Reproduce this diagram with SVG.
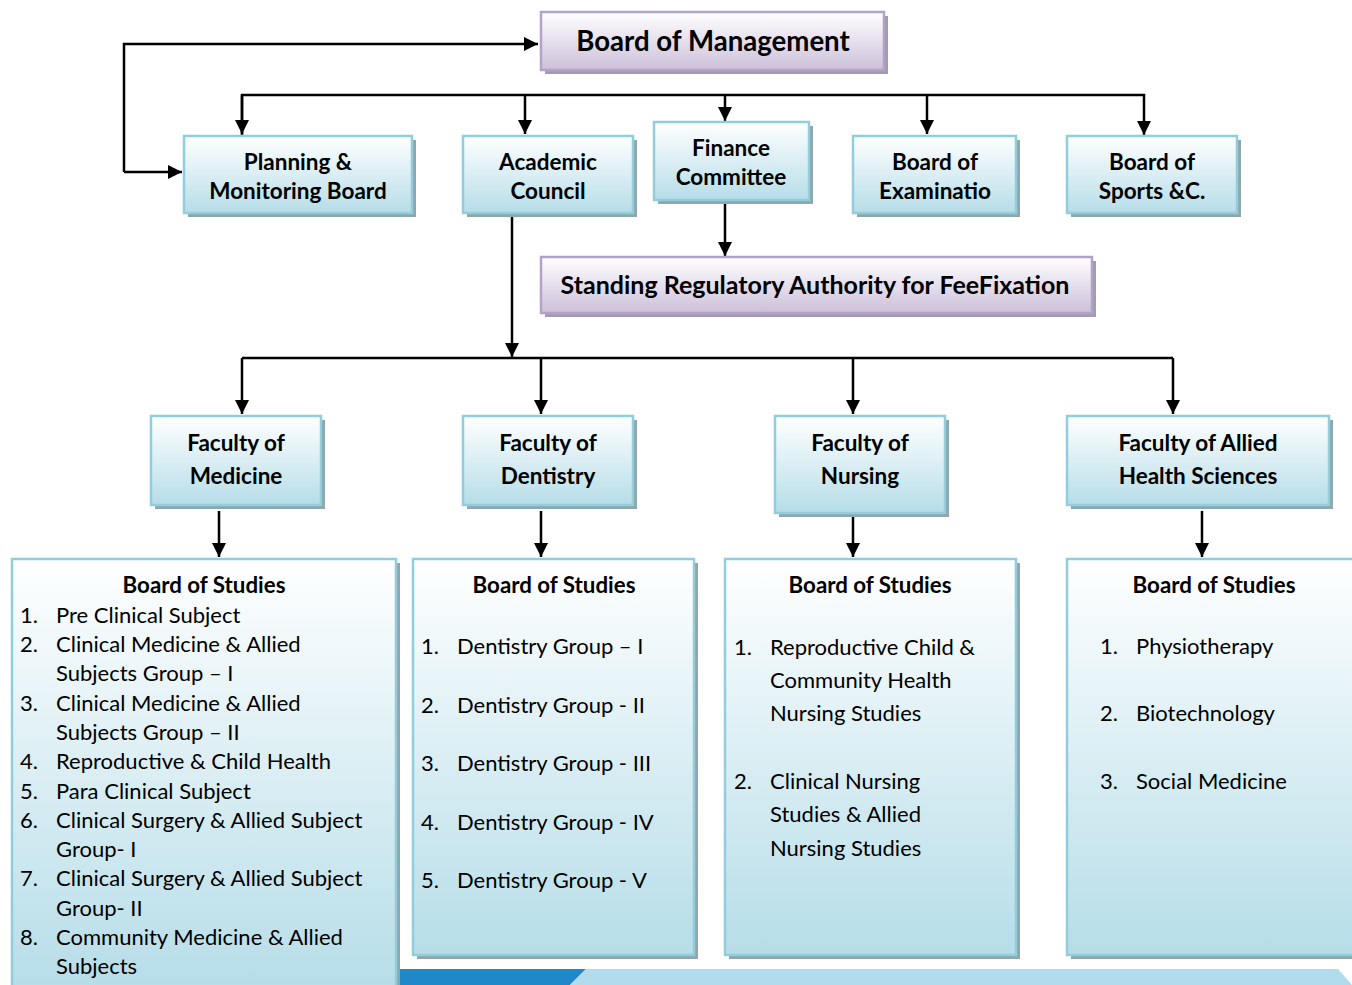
<svg xmlns="http://www.w3.org/2000/svg" width="1352" height="985" viewBox="0 0 1352 985">
<defs>
<linearGradient id="gBlue" x1="0" y1="0" x2="0" y2="1">
<stop offset="0" stop-color="#ffffff"/>
<stop offset="1" stop-color="#b6dde8"/>
</linearGradient>
<linearGradient id="gPurple" x1="0" y1="0" x2="0" y2="1">
<stop offset="0" stop-color="#ffffff"/>
<stop offset="1" stop-color="#ccc0da"/>
</linearGradient>
<marker id="ah" viewBox="0 0 10 10" refX="10" refY="5" markerWidth="14" markerHeight="14" markerUnits="userSpaceOnUse" orient="auto">
<path d="M0,0 L10,5 L0,10 z" fill="#000"/>
</marker>
</defs>
<style>
.sh{fill:#8fa6ad}
.shp{fill:#a39bb0}
.bx{fill:url(#gBlue);stroke:#92cddc;stroke-width:2.5}
.bp{fill:url(#gPurple);stroke:#b3a2c7;stroke-width:2.5}
.t{font-family:Lato,"Open Sans",sans-serif;font-weight:bold;font-size:22.5px;fill:#000;text-anchor:middle}
.h{font-family:Lato,"Open Sans",sans-serif;font-weight:bold;font-size:22.3px;fill:#000;text-anchor:middle}
.big{font-family:Lato,"Open Sans",sans-serif;font-weight:bold;font-size:27.6px;fill:#000;text-anchor:middle}
.mid{font-family:Lato,"Open Sans",sans-serif;font-weight:bold;font-size:25px;fill:#000;text-anchor:middle}
.i{font-family:Lato,"Open Sans",sans-serif;font-size:22px;fill:#000}
.ln{fill:none;stroke:#000;stroke-width:2.5}
</style>
<rect width="1352" height="985" fill="#ffffff"/>

<g id="connectors">
<path class="ln" d="M124,172 L124,44 L538,44" marker-end="url(#ah)"/>
<path class="ln" d="M124,172 L182,172" marker-end="url(#ah)"/>
<path class="ln" d="M242,135 L242,95 L1144,95 L1144,135" marker-end="url(#ah)"/>
<path class="ln" d="M242,95 L242,134" marker-end="url(#ah)"/>
<path class="ln" d="M525,95 L525,134" marker-end="url(#ah)"/>
<path class="ln" d="M725,95 L725,121" marker-end="url(#ah)"/>
<path class="ln" d="M927,95 L927,134" marker-end="url(#ah)"/>
<path class="ln" d="M512,213 L512,357" marker-end="url(#ah)"/>
<path class="ln" d="M725,200 L725,256" marker-end="url(#ah)"/>
<path class="ln" d="M242,358 L1173,358"/>
<path class="ln" d="M242,358 L242,414" marker-end="url(#ah)"/>
<path class="ln" d="M541,358 L541,414" marker-end="url(#ah)"/>
<path class="ln" d="M853,358 L853,414" marker-end="url(#ah)"/>
<path class="ln" d="M1173,358 L1173,414" marker-end="url(#ah)"/>
<path class="ln" d="M219,511 L219,557" marker-end="url(#ah)"/>
<path class="ln" d="M541,511 L541,557" marker-end="url(#ah)"/>
<path class="ln" d="M853,516 L853,557" marker-end="url(#ah)"/>
<path class="ln" d="M1202,511 L1202,557" marker-end="url(#ah)"/>
</g>

<g id="board-of-management">
<rect class="shp" x="545" y="16" width="343" height="58"/>
<rect class="bp" x="541" y="12" width="343" height="58"/>
<text class="big" x="713" y="51">Board of Management</text>
</g>

<g id="planning-monitoring-board">
<rect class="sh" x="188" y="140" width="228" height="77"/>
<rect class="bx" x="184" y="136" width="228" height="77"/>
<text class="t" x="298" y="170">Planning &amp;</text>
<text class="t" x="298" y="199">Monitoring Board</text>
</g>

<g id="academic-council">
<rect class="sh" x="467" y="140" width="170" height="77"/>
<rect class="bx" x="463" y="136" width="170" height="77"/>
<text class="t" x="548" y="170">Academic</text>
<text class="t" x="548" y="199">Council</text>
</g>

<g id="finance-committee">
<rect class="sh" x="658" y="126" width="155" height="78"/>
<rect class="bx" x="654" y="122" width="155" height="78"/>
<text class="t" x="731" y="156">Finance</text>
<text class="t" x="731" y="185">Committee</text>
</g>

<g id="board-of-examination">
<rect class="sh" x="857" y="140" width="163" height="77"/>
<rect class="bx" x="853" y="136" width="163" height="77"/>
<text class="t" x="935" y="170">Board of</text>
<text class="t" x="935" y="199">Examinatio</text>
</g>

<g id="board-of-sports">
<rect class="sh" x="1071" y="140" width="170" height="77"/>
<rect class="bx" x="1067" y="136" width="170" height="77"/>
<text class="t" x="1152" y="170">Board of</text>
<text class="t" x="1152" y="199">Sports &amp;C.</text>
</g>

<g id="standing-regulatory-authority">
<rect class="shp" x="545" y="261" width="551" height="56"/>
<rect class="bp" x="541" y="257" width="551" height="56"/>
<text class="mid" x="815" y="294">Standing Regulatory Authority for FeeFixation</text>
</g>

<g id="faculty-medicine">
<rect class="sh" x="155" y="420" width="170" height="89"/>
<rect class="bx" x="151" y="416" width="170" height="89"/>
<text class="t" x="236" y="451">Faculty of</text>
<text class="t" x="236" y="484">Medicine</text>
</g>

<g id="faculty-dentistry">
<rect class="sh" x="467" y="420" width="170" height="89"/>
<rect class="bx" x="463" y="416" width="170" height="89"/>
<text class="t" x="548" y="451">Faculty of</text>
<text class="t" x="548" y="484">Dentistry</text>
</g>

<g id="faculty-nursing">
<rect class="sh" x="779" y="420" width="170" height="97"/>
<rect class="bx" x="775" y="416" width="170" height="97"/>
<text class="t" x="860" y="451">Faculty of</text>
<text class="t" x="860" y="484">Nursing</text>
</g>

<g id="faculty-allied">
<rect class="sh" x="1071" y="420" width="262" height="89"/>
<rect class="bx" x="1067" y="416" width="262" height="89"/>
<text class="t" x="1198" y="451">Faculty of Allied</text>
<text class="t" x="1198" y="484">Health Sciences</text>
</g>

<g id="band">
<polygon points="398,969 586,969 570,985 398,985" fill="#1e88c8"/>
<polygon points="586,969 1338,969 1352,985 570,985" fill="#b0dcee"/>
</g>

<g id="bos-medicine">
<rect class="sh" x="16" y="563" width="384" height="430"/>
<rect class="bx" x="12" y="559" width="384" height="430"/>
<text class="h" x="204" y="593">Board of Studies</text>
<g class="i">
<text x="20" y="623">1.</text><text x="56" y="623">Pre Clinical Subject</text>
<text x="20" y="652">2.</text><text x="56" y="652">Clinical Medicine &amp; Allied</text>
<text x="56" y="681">Subjects Group – I</text>
<text x="20" y="711">3.</text><text x="56" y="711">Clinical Medicine &amp; Allied</text>
<text x="56" y="740">Subjects Group – II</text>
<text x="20" y="769">4.</text><text x="56" y="769">Reproductive &amp; Child Health</text>
<text x="20" y="799">5.</text><text x="56" y="799">Para Clinical Subject</text>
<text x="20" y="828">6.</text><text x="56" y="828">Clinical Surgery &amp; Allied Subject</text>
<text x="56" y="857">Group- I</text>
<text x="20" y="886">7.</text><text x="56" y="886">Clinical Surgery &amp; Allied Subject</text>
<text x="56" y="916">Group- II</text>
<text x="20" y="945">8.</text><text x="56" y="945">Community Medicine &amp; Allied</text>
<text x="56" y="974">Subjects</text>
</g>
</g>

<g id="bos-dentistry">
<rect class="sh" x="417" y="563" width="281" height="396"/>
<rect class="bx" x="413" y="559" width="281" height="396"/>
<text class="h" x="554" y="593">Board of Studies</text>
<g class="i">
<text x="421" y="654">1.</text><text x="457" y="654">Dentistry Group – I</text>
<text x="421" y="713">2.</text><text x="457" y="713">Dentistry Group - II</text>
<text x="421" y="771">3.</text><text x="457" y="771">Dentistry Group - III</text>
<text x="421" y="830">4.</text><text x="457" y="830">Dentistry Group - IV</text>
<text x="421" y="888">5.</text><text x="457" y="888">Dentistry Group - V</text>
</g>
</g>

<g id="bos-nursing">
<rect class="sh" x="729" y="563" width="291" height="396"/>
<rect class="bx" x="725" y="559" width="291" height="396"/>
<text class="h" x="870" y="593">Board of Studies</text>
<g class="i">
<text x="734" y="655">1.</text><text x="770" y="655">Reproductive Child &amp;</text>
<text x="770" y="688">Community Health</text>
<text x="770" y="721">Nursing Studies</text>
<text x="734" y="789">2.</text><text x="770" y="789">Clinical Nursing</text>
<text x="770" y="822">Studies &amp; Allied</text>
<text x="770" y="856">Nursing Studies</text>
</g>
</g>

<g id="bos-allied">
<rect class="sh" x="1071" y="563" width="300" height="396"/>
<rect class="bx" x="1067" y="559" width="300" height="396"/>
<text class="h" x="1214" y="593">Board of Studies</text>
<g class="i">
<text x="1100" y="654">1.</text><text x="1136" y="654">Physiotherapy</text>
<text x="1100" y="721">2.</text><text x="1136" y="721">Biotechnology</text>
<text x="1100" y="789">3.</text><text x="1136" y="789">Social Medicine</text>
</g>
</g>
</svg>
